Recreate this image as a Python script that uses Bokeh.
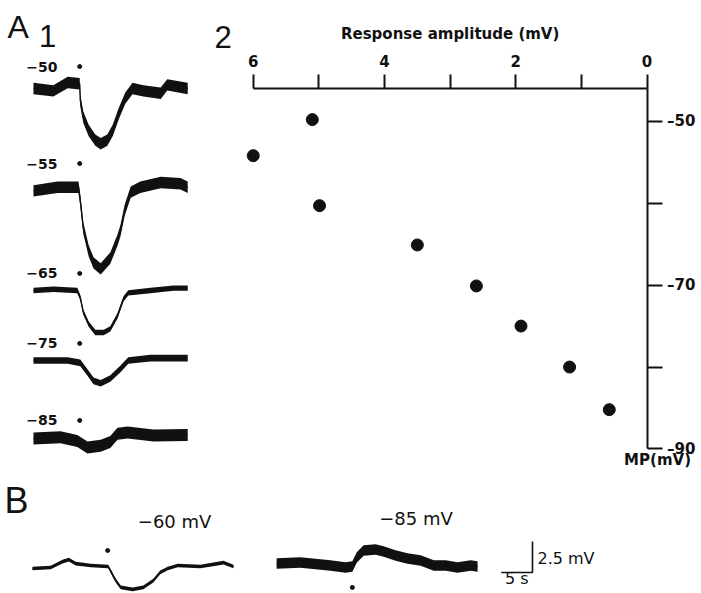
from bokeh.plotting import figure
from bokeh.models import Range1d, LinearAxis, FixedTicker, Label, ColumnDataSource
from bokeh.core.properties import value
from bokeh.embed import file_html
from bokeh.resources import INLINE

# ---------------- data: panel A1 (time in s, voltage change in mV) ----------------
A1_LABELS = ["−50", "−55", "−65", "−75", "−85"]
A1_STIM = 7.7

T50_T = [0, 3.3, 5.7, 7.7, 7.8, 8.3, 9.2, 10.3, 11.2, 12.3, 13.2, 14.2, 15.3, 16.5, 18.3, 21.2, 22.3, 25.7]
T50_V = [0, -0.2, 0.5, 0.4, -1.0, -2.4, -3.5, -4.3, -4.6, -4.3, -3.5, -2.1, -0.8, 0, -0.2, -0.4, 0.3, 0]
T55_T = [0, 4.0, 7.5, 7.8, 8.3, 9.2, 10.0, 11.2, 12.8, 14.0, 14.5, 15.2, 16.2, 17.8, 21.2, 24.5, 25.7]
T55_V = [-0.2, 0.1, 0.1, -1.0, -3.3, -5.2, -6.2, -6.7, -5.8, -4.3, -3.5, -1.8, -0.3, 0.1, 0.5, 0.4, 0.1]
T65_T = [0, 3.3, 7.3, 7.8, 8.3, 9.2, 10.3, 11.7, 12.8, 14.0, 15.0, 15.8, 19.5, 23.3, 25.7]
T65_V = [0, 0.1, 0, -0.6, -1.8, -2.8, -3.5, -3.5, -3.2, -2.1, -0.7, -0.2, 0, 0.2, 0.2]
T75_T = [0, 5.7, 7.8, 9.0, 10.0, 11.2, 12.8, 14.5, 15.8, 19.5, 25.7]
T75_V = [0, 0, -0.2, -1.0, -1.7, -1.9, -1.5, -0.7, 0, 0.2, 0.2]
T85_T = [0, 4.5, 7.3, 9.0, 11.2, 12.8, 14.0, 15.7, 20.0, 25.7]
T85_V = [0, 0.1, -0.2, -0.75, -0.6, -0.3, 0.4, 0.5, 0.25, 0.3]

# ---------------- data: panel A2 ----------------
AMPLITUDE = [6.0, 5.10, 4.99, 3.50, 2.60, 1.92, 1.18, 0.575]
MEMBRANE_POT = [-54.2, -49.8, -60.3, -65.1, -70.1, -75.0, -80.0, -85.2]
X_TICKS = [0, 2, 4, 6]
X_MINOR = [1, 3, 5]
Y_TICKS = [-90, -70, -50]
Y_MINOR = [-80, -60]

# ---------------- data: panel B ----------------
B60_T = [0, 2.9, 4.8, 5.8, 6.9, 9.3, 12.1, 13.3, 14.1, 16.0, 17.7, 19.3, 20.4, 21.6, 23.2, 26.8, 29.6, 30.5, 32.1]
B60_V = [-0.16, -0.08, 0.4, 0.56, 0.24, 0.08, 0, -1.13, -1.69, -1.85, -1.69, -1.13, -0.48, -0.16, 0.08, 0, 0.24, 0.32, 0]
B85_T = [39.0, 42.8, 47.6, 50.0, 51.1, 51.8, 52.9, 54.8, 56.1, 58.0, 59.9, 62.0, 64.1, 66.0, 67.9, 70.0, 71.1]
B85_V = [0.24, 0.32, 0.08, -0.08, 0, 0.73, 1.29, 1.37, 1.21, 0.89, 0.65, 0.48, 0.08, 0.08, -0.08, 0.08, 0]
B_STIM_T = [12.0, 51.1]
B_STIM_V = [1.29, -1.69]
B_LABELS = ["−60 mV", "−85 mV"]
SCALE_T = 5
SCALE_V = 2.5

# ---------------- layout / style constants ----------------
A1_OFFSETS = [-7.333, -15.667, -24.167, -30.0, -36.5]
A1_LABEL_DY = [1.83, 2.08, 1.42, 1.42, 1.5]
A1_BAND = [0.95, 0.95, 0.45, 0.55, 1.0]
BLACK = "#111111"

p = figure(width=701, height=593,
           x_range=Range1d(9.851, -0.830), y_range=Range1d(-107.64, -35.26),
           x_axis_type=None, y_axis_type=None, toolbar_location=None,
           output_backend="svg", min_border=0, outline_line_color=None)
p.extra_x_ranges = {"a1x": Range1d(-5.5, 111.33), "bx": Range1d(-5.112, 106.87)}
p.extra_y_ranges = {"a1y": Range1d(-49.417, 0), "by": Range1d(-2.177, 45.645)}
p.xgrid.visible = False
p.ygrid.visible = False

A1 = dict(x_range_name="a1x", y_range_name="a1y")
B = dict(x_range_name="bx", y_range_name="by")


def trace(t, v, off, band, names, lw=1.4):
    y = [off + vv for vv in v]
    p.varea(x=t, y1=[yy + band / 2 for yy in y], y2=[yy - band / 2 for yy in y],
            fill_color=BLACK, **names)
    p.line(t, y, line_width=lw, line_color=BLACK, line_join="round", **names)


def letter(x, y, text, size, names):
    p.add_layout(Label(x=x, y=y, text=text, text_font="Liberation Sans",
                       text_font_size=size, text_baseline="middle", text_color=BLACK,
                       **names))


# ---------------- panel A1 ----------------
A1_T = [T50_T, T55_T, T65_T, T75_T, T85_T]
A1_V = [T50_V, T55_V, T65_V, T75_V, T85_V]
for i in range(5):
    trace(A1_T[i], A1_V[i], A1_OFFSETS[i], A1_BAND[i], A1)

lab_y = [A1_OFFSETS[i] + A1_LABEL_DY[i] for i in range(5)]
p.text(x=[-1.22] * 5, y=lab_y, text=A1_LABELS, text_font=value("DejaVu Sans"),
       text_font_size="14px", text_font_style="bold", text_baseline="middle",
       text_align="left", text_color=BLACK, **A1)
p.scatter(x=[A1_STIM] * 5, y=lab_y, size=4, marker="circle", color=BLACK, **A1)
letter(-4.333, -2.167, "A", "32px", A1)
letter(0.93, -3.0, "1", "31px", A1)

# ---------------- panel A2 ----------------
xa = LinearAxis(ticker=FixedTicker(ticks=X_TICKS, minor_ticks=X_MINOR), bounds=(0, 6),
                fixed_location=-46)
ya = LinearAxis(ticker=FixedTicker(ticks=Y_TICKS, minor_ticks=Y_MINOR), bounds=(-90, -46),
                fixed_location=0,
                major_label_overrides={t: "–" + str(abs(t)) for t in Y_TICKS})
for ax, tl in ((xa, 14), (ya, 15)):
    ax.axis_line_width = 2
    ax.axis_line_color = BLACK
    ax.major_tick_line_width = 2
    ax.minor_tick_line_width = 2
    ax.major_tick_line_color = BLACK
    ax.minor_tick_line_color = BLACK
    ax.major_tick_in = 0
    ax.minor_tick_in = 0
    ax.major_tick_out = tl
    ax.minor_tick_out = tl
    ax.major_label_text_font = "DejaVu Sans"
    ax.major_label_text_font_style = "bold"
    ax.major_label_text_font_size = "15px"
    ax.major_label_text_color = BLACK
xa.major_label_standoff = 7
ya.major_label_standoff = 5
p.add_layout(xa, "above")
p.add_layout(ya, "right")

src = ColumnDataSource(dict(amp=AMPLITUDE, mp=MEMBRANE_POT))
p.scatter("amp", "mp", source=src, size=12, marker="circle", color=BLACK)

letter(6.59, -39.775, "2", "31px", {})
p.add_layout(Label(x=3.0, y=-39.29, text="Response amplitude (mV)", text_font="DejaVu Sans",
                   text_font_style="bold", text_font_size="15px", text_align="center",
                   text_baseline="middle", text_color=BLACK))
p.add_layout(Label(x=0.349, y=-91.40, text="MP(mV)", text_font="DejaVu Sans",
                   text_font_style="bold", text_font_size="15px", text_align="left",
                   text_baseline="middle", text_color=BLACK))

# ---------------- panel B ----------------
trace(B60_T, B60_V, 0, 0.3, B, lw=1.6)
trace(B85_T, B85_V, 0, 0.85, B)
p.scatter(x=B_STIM_T, y=B_STIM_V, size=4, marker="circle", color=BLACK, **B)
p.text(x=[22.7, 61.26], y=[3.63, 3.87], text=B_LABELS, text_font=value("DejaVu Sans"),
       text_font_size="18px", text_align="center", text_baseline="middle",
       text_color=BLACK, **B)

sx0, sy0 = 79.87, -0.484
p.line([sx0 - SCALE_T, sx0, sx0], [sy0, sy0, sy0 + SCALE_V], line_width=1.6,
       line_color=BLACK, **B)
p.text(x=[sx0 + 0.8, sx0 - SCALE_T / 2], y=[sy0 + SCALE_V / 2 - 0.12, sy0 - 0.484],
       text=[f"{SCALE_V} mV", f"{SCALE_T} s"], text_font=value("DejaVu Sans"),
       text_font_size="16px", text_align=["left", "center"], text_baseline="middle",
       text_color=BLACK, **B)
letter(-4.47, 5.32, "B", "36px", B)

open("out.html", "w").write(file_html(p, INLINE))
